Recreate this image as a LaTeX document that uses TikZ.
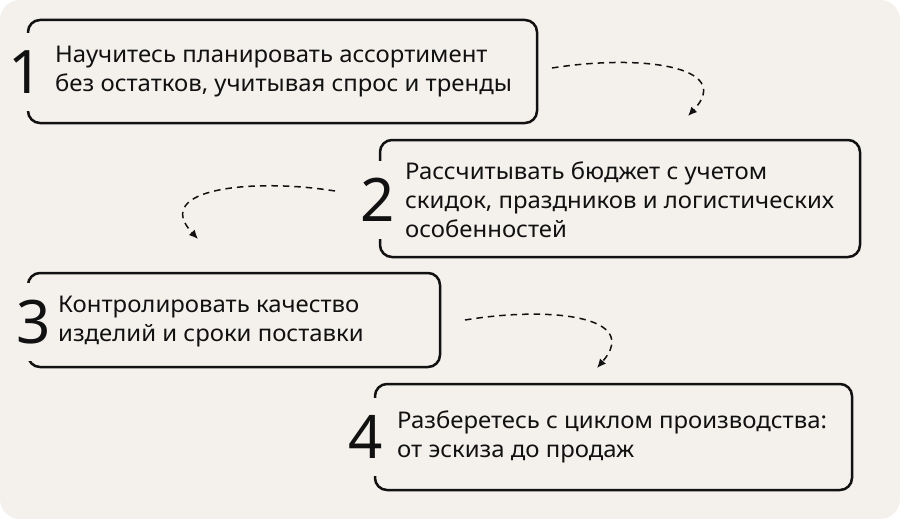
\documentclass[tikz,border=0pt]{standalone}
\usepackage{fontspec}
\setmainfont{Noto Sans}
\newfontfamily\wideface[FakeStretch=1.04]{Noto Sans}
\usepackage{tikz}
\usetikzlibrary{arrows.meta,positioning}
\definecolor{paper}{HTML}{F4F1EC}
\definecolor{ink}{HTML}{111111}
\tikzset{
  stepbox/.style={draw=ink,line width=2.5pt,rounded corners=12pt,inner sep=0pt},
  stepnum/.style={fill=paper,text=ink,inner sep=0pt,minimum height=78pt,minimum width=22pt,font=\fontsize{60}{60}\selectfont},
  steptext/.style={anchor=west,align=left,text=ink,inner sep=0pt,font=\wideface\fontsize{23}{29}\selectfont},
  hop/.style={draw=ink,line width=1.5pt,dash pattern=on 6.5pt off 5pt,-{Latex[length=9pt,width=8pt]}}
}
\begin{document}
\begin{tikzpicture}[x=1pt,y=-1pt]
  \useasboundingbox (0,0) rectangle (900,519);
  \fill[white] (0,0) rectangle (900,519);
  \fill[paper,rounded corners=20pt] (0,0) rectangle (900,519);
  % step 1
  \node[stepbox,minimum width=509pt,minimum height=103pt] (s1) at (282.5,71.5) {};
  \node[stepnum] (n1) at (26,72) {1};
  \node[steptext] (t1) at (55,72) {Научитесь планировать ассортимент\\без остатков, учитывая спрос и тренды};
  % step 2
  \node[stepbox,minimum width=480pt,minimum height=117pt] (s2) at (620,198.5) {};
  \node[stepnum] (n2) at (378,200) {2};
  \node[steptext] (t2) at (405,200) {Рассчитывать бюджет с учетом\\скидок, праздников и логистических\\особенностей};
  % step 3
  \node[stepbox,minimum width=412pt,minimum height=94pt] (s3) at (234,320) {};
  \node[stepnum] (n3) at (34,322) {3};
  \node[steptext] (t3) at (58,322) {Контролировать качество\\изделий и сроки поставки};
  % step 4
  \node[stepbox,minimum width=477pt,minimum height=106pt] (s4) at (613.5,437) {};
  \node[stepnum] (n4) at (366,437) {4};
  \node[steptext] (t4) at (397,437) {Разберетесь с циклом производства:\\от эскиза до продаж};
  % hops between steps
  \coordinate (a1) at (552,68);  \coordinate (b1) at (688,116);
  \coordinate (a2) at (335,191); \coordinate (b2) at (198,239);
  \coordinate (a3) at (465,320); \coordinate (b3) at (597,368);
  \draw[hop] (a1) .. controls (640,54) and (735,66) .. (b1);
  \draw[hop] (a2) .. controls (255,178) and (150,188) .. (b2);
  \draw[hop] (a3) .. controls (550,306) and (642,316) .. (b3);
\end{tikzpicture}
\end{document}
